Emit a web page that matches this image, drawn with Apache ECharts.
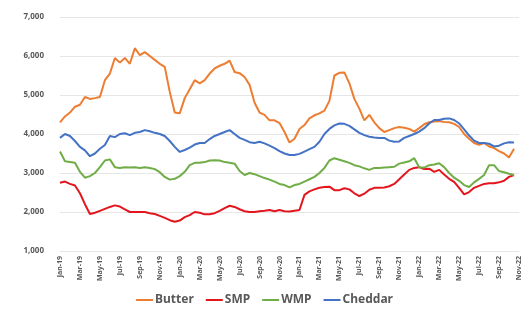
<!DOCTYPE html>
<html>
<head>
<meta charset="utf-8">
<script src="https://cdn.jsdelivr.net/npm/echarts@6/dist/echarts.min.js"></script>
<style>
    html, body {margin: 0; padding: 0; background: #fff;}
    #chart {width: 529px; height: 315px;}
</style>
</head>
<body>
<div id="chart"></div>
<script>
// x axis: half-month slots from Jan-19 to Nov-22, a tick label every 2 months
var tickLabels = ['Jan-19', 'Mar-19', 'May-19', 'Jul-19', 'Sep-19', 'Nov-19',
    'Jan-20', 'Mar-20', 'May-20', 'Jul-20', 'Sep-20', 'Nov-20',
    'Jan-21', 'Mar-21', 'May-21', 'Jul-21', 'Sep-21', 'Nov-21',
    'Jan-22', 'Mar-22', 'May-22', 'Jul-22', 'Sep-22', 'Nov-22'];

var butter = [4300, 4450, 4550, 4700, 4750, 4950, 4900, 4920, 4950, 5380,
    5550, 5950, 5830, 5950, 5800, 6200, 6020, 6100, 6000, 5900,
    5800, 5720, 5080, 4550, 4530, 4920, 5150, 5380, 5300, 5380,
    5550, 5680, 5750, 5800, 5880, 5590, 5560, 5460, 5260, 4800,
    4550, 4490, 4350, 4350, 4280, 4050, 3780, 3880, 4130, 4230,
    4400, 4480, 4530, 4600, 4850, 5500, 5570, 5580, 5300, 4900,
    4650, 4350, 4490, 4300, 4150, 4050, 4100, 4150, 4180, 4160,
    4130, 4060, 4150, 4250, 4300, 4320, 4330, 4310, 4300, 4260,
    4180, 4000, 3880, 3770, 3720, 3770, 3680, 3640, 3560, 3500,
    3400, 3620];

var smp = [2750, 2780, 2720, 2680, 2480, 2200, 1950, 1980, 2030, 2080,
    2130, 2170, 2140, 2070, 2000, 2000, 2000, 2000, 1970, 1950,
    1900, 1850, 1790, 1750, 1780, 1870, 1920, 2000, 1980, 1940,
    1940, 1970, 2030, 2100, 2160, 2130, 2070, 2020, 2000, 2000,
    2020, 2030, 2050, 2020, 2050, 2020, 2010, 2030, 2050, 2440,
    2530, 2580, 2620, 2640, 2650, 2560, 2560, 2610, 2580, 2480,
    2410, 2470, 2570, 2620, 2620, 2630, 2660, 2720, 2840, 2960,
    3080, 3130, 3150, 3100, 3110, 3030, 3080, 2960, 2850, 2770,
    2620, 2450, 2510, 2620, 2670, 2720, 2740, 2740, 2760, 2800,
    2900, 2950];

var wmp = [3550, 3300, 3280, 3260, 3030, 2880, 2920, 3000, 3150, 3320,
    3350, 3150, 3130, 3150, 3140, 3150, 3130, 3150, 3130, 3100,
    3020, 2900, 2830, 2850, 2920, 3030, 3200, 3260, 3260, 3280,
    3320, 3330, 3320, 3280, 3260, 3240, 3050, 2950, 3000, 2970,
    2920, 2870, 2830, 2780, 2720, 2690, 2630, 2690, 2720, 2780,
    2840, 2900, 3000, 3130, 3320, 3380, 3340, 3300, 3260, 3200,
    3170, 3120, 3080, 3130, 3130, 3140, 3150, 3160, 3240, 3270,
    3300, 3380, 3150, 3140, 3200, 3220, 3250, 3150, 3000, 2880,
    2800, 2690, 2640, 2760, 2850, 2950, 3200, 3200, 3050, 3020,
    2980, 2950];

var cheddar = [3900, 4000, 3950, 3820, 3670, 3580, 3430, 3500, 3620, 3720,
    3950, 3920, 4000, 4020, 3970, 4030, 4050, 4100, 4070, 4030,
    4000, 3950, 3820, 3670, 3540, 3590, 3650, 3730, 3770, 3770,
    3870, 3950, 4000, 4050, 4100, 4000, 3900, 3850, 3790, 3770,
    3800, 3760, 3700, 3640, 3560, 3500, 3460, 3460, 3490, 3550,
    3610, 3670, 3800, 4000, 4130, 4220, 4270, 4260, 4210, 4120,
    4030, 3970, 3930, 3910, 3900, 3900, 3830, 3800, 3810, 3900,
    3950, 4000, 4060, 4150, 4270, 4360, 4360, 4390, 4400, 4360,
    4270, 4120, 3960, 3830, 3770, 3770, 3750, 3680, 3700, 3760,
    3790, 3780];

// category slots: two per month, the axis ends on Nov-22
var categories = [];
for (var i = 0; i < tickLabels.length - 1; i++) {
    var m = tickLabels[i];
    categories.push(m, m + ' b', m.replace('-', ' mid-'), m + ' mid b');
}
categories.push(tickLabels[tickLabels.length - 1]);

var myChart = echarts.init(document.getElementById('chart'));

function line(name, data, color) {
    return {
        name: name,
        type: 'line',
        data: data,
        showSymbol: false,
        symbol: 'none',
        lineStyle: {width: 2, color: color},
        itemStyle: {color: color}
    };
}

var option = {
    animation: false,
    textStyle: {fontFamily: 'Noto Sans'},
    grid: {left: 60, right: 10, top: 17, bottom: 64},
    legend: {
        bottom: 4,
        left: 'center',
        itemWidth: 17,
        itemHeight: 2,
        itemGap: 12,
        icon: 'rect',
        textStyle: {fontSize: 12, fontWeight: 'bold', color: '#595959', fontFamily: 'Noto Sans', padding: [0, 0, 0, -3]},
        data: ['Butter', 'SMP', 'WMP', 'Cheddar']
    },
    xAxis: {
        type: 'category',
        data: categories,
        boundaryGap: false,
        axisLine: {show: false},
        axisTick: {show: false},
        axisLabel: {
            interval: 3,
            rotate: 90,
            margin: 5,
            fontSize: 7,
            fontWeight: 'bold',
            color: '#595959',
            formatter: function (v, idx) {
                return tickLabels[idx / 4] || '';
            }
        }
    },
    yAxis: {
        type: 'value',
        min: 1000,
        max: 7000,
        interval: 1000,
        axisLine: {show: false},
        axisTick: {show: false},
        splitLine: {lineStyle: {color: '#e6e6e6', width: 1}},
        axisLabel: {
            margin: 16,
            fontSize: 8,
            fontWeight: 'bold',
            color: '#595959',
            formatter: function (v) {
                return v.toLocaleString('en-US');
            }
        }
    },
    series: [
        line('Butter', butter, '#ED7D31'),
        line('SMP', smp, '#E3161E'),
        line('WMP', wmp, '#70AD47'),
        line('Cheddar', cheddar, '#4472C4')
    ]
};

myChart.setOption(option);
</script>
</body>
</html>
